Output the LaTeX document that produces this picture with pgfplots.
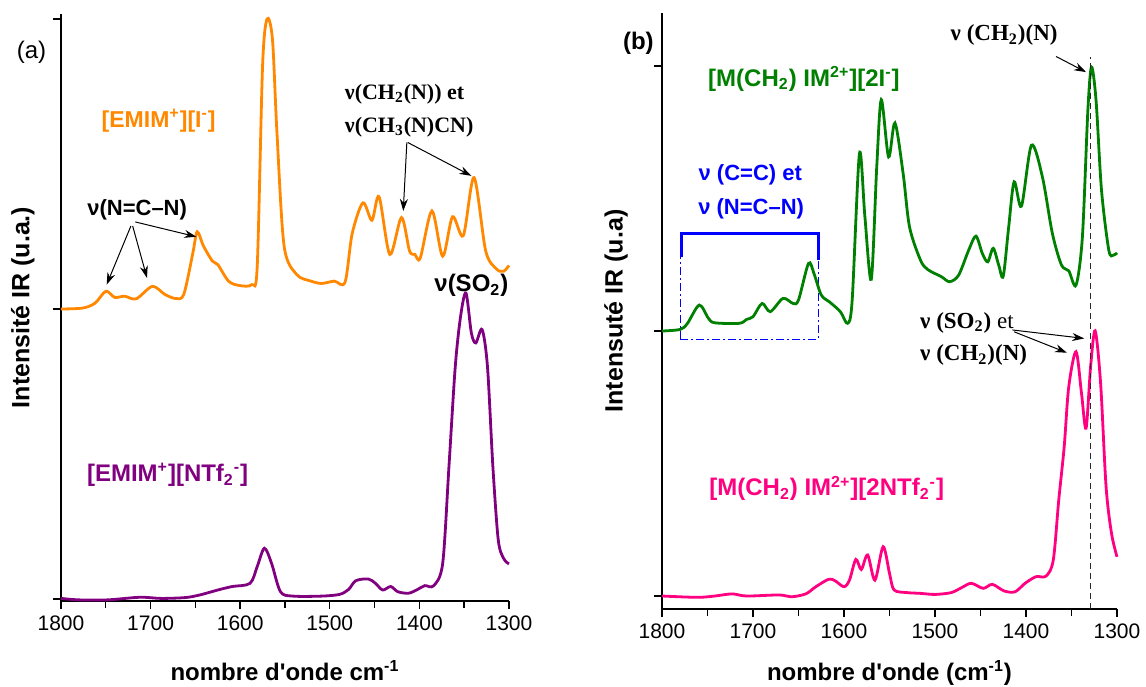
\documentclass[border=0pt]{standalone}
\usepackage{pgfplots}
\pgfplotsset{compat=1.18}
\usepackage{fontspec}
\setmainfont{Liberation Sans}
\newfontfamily\tnr{Liberation Serif}
\usetikzlibrary{arrows.meta}
\definecolor{corange}{RGB}{255,136,0}
\definecolor{cpurple}{RGB}{128,0,128}
\definecolor{cgreen}{RGB}{0,128,0}
\definecolor{cpink}{RGB}{255,0,128}
\definecolor{cblue}{RGB}{0,0,255}
\newcommand\supsub[2]{\textsubscript{#1}\textsuperscript{#2}}
\tikzset{arr/.style={-{Stealth[length=6pt,width=4pt]}, line width=0.5pt, black}}
\pgfplotsset{
  common/.style={
    scale only axis, x dir=reverse, xmin=1300, xmax=1800,
    axis x line*=bottom, axis y line*=left,
    x axis line style={-}, y axis line style={-},
    axis line style={line width=0.7pt},
    xtick={1300,1400,...,1800}, minor xtick={1350,1450,1550,1650,1750},
    ytick={0,1,2}, yticklabels={},
    tick align=outside, major tick length=4pt, minor tick length=3.5pt,
    every tick/.style={black, line width=0.7pt},
    clip=false,
    /pgf/number format/assume math mode=true,
    /pgf/number format/set thousands separator={},
    ticklabel style={font=\fontsize{10.5}{12}\selectfont},
    every axis plot/.append style={line width=1.4pt, smooth, tension=0.5},
  },
}
\begin{document}
\begin{tikzpicture}
\path[use as bounding box] (-30.5pt,-42.5pt) rectangle (542.5pt,300.5pt);
% ---------------- (a)
\begin{axis}[common, at={(0pt,0pt)}, width=224pt, height=293.5pt,
  ymin=-0.0069, ymax=2.017]
\addplot[corange] coordinates {
(1800,1.0) (1776,1.003) (1762,1.02) (1750,1.061) (1740,1.04) (1729,1.044) (1716,1.035)
(1698,1.078) (1684,1.05) (1672,1.036) (1663,1.05) (1653,1.19) (1648,1.266) (1641,1.217)
(1631,1.165) (1625,1.153) (1613,1.096) (1601,1.081) (1587,1.084) (1581,1.147) (1575,1.84)
(1570,2.0) (1564,1.93) (1559,1.61) (1551,1.217) (1537,1.119) (1521,1.096) (1509,1.088)
(1495,1.096) (1483,1.092) (1475,1.26) (1463,1.366) (1453,1.306) (1445,1.387) (1433,1.188)
(1420,1.315) (1411,1.2) (1405,1.188) (1399,1.176) (1386,1.338) (1374,1.182) (1363,1.318)
(1351,1.253) (1339,1.453) (1326,1.2) (1314,1.138) (1306,1.13) (1300,1.15)};
\addplot[cpurple] coordinates {
(1800,0.002) (1780,-0.003) (1748,-0.003) (1712,0.006) (1688,0.002) (1661,0.005) (1645,0.014)
(1625,0.031) (1609,0.043) (1589,0.054) (1581,0.112) (1573,0.175) (1565,0.123) (1555,0.025)
(1541,0.01) (1509,0.01) (1489,0.016) (1479,0.033) (1471,0.063) (1457,0.069) (1449,0.054)
(1441,0.031) (1432,0.043) (1424,0.025) (1412,0.02) (1402,0.033) (1394,0.046) (1384,0.046)
(1374,0.123) (1367,0.457) (1360,0.80) (1354,0.975) (1348,1.055) (1342,0.917) (1337,0.883)
(1330,0.929) (1324,0.80) (1318,0.457) (1312,0.204) (1306,0.14) (1300,0.121)};
\node[font=\fontsize{12}{14}\selectfont] at (axis cs:1833,1.885) {(a)};
\node[corange, font=\bfseries\fontsize{11.5}{14}\selectfont] at (axis cs:1691,1.649) {[EMIM\textsuperscript{+}][I\textsuperscript{-}]};
\node[font=\bfseries\fontsize{11}{13}\selectfont] at (axis cs:1715,1.343) {ν(N=C–N)};
\draw[arr] (axis cs:1722,1.286) -- (axis cs:1749,1.084);
\draw[arr] (axis cs:1720,1.286) -- (axis cs:1704,1.107);
\draw[arr] (axis cs:1717,1.30) -- (axis cs:1649,1.249);
\node[font=\tnr\bfseries\fontsize{11}{13}\selectfont, anchor=west] at (axis cs:1491,1.741) {ν(CH\textsubscript{2}(N)) et};
\node[font=\tnr\bfseries\fontsize{11}{13}\selectfont, anchor=west] at (axis cs:1491,1.626) {ν(CH\textsubscript{3}(N)CN)};
\draw[arr] (axis cs:1414,1.574) -- (axis cs:1418,1.338);
\draw[arr] (axis cs:1413,1.574) -- (axis cs:1342,1.459);
\node[font=\bfseries\fontsize{12}{14}\selectfont] at (axis cs:1342,1.081) {ν(SO\textsubscript{2})};
\node[cpurple, font=\bfseries\fontsize{12}{14}\selectfont] at (axis cs:1681,0.428) {[EMIM\textsuperscript{+}][NTf\supsub{2}{-}]};
\node[rotate=90, font=\bfseries\fontsize{12.5}{14}\selectfont] at (axis description cs:-0.085,0.5) {Intensité IR (u.a.)};
\node[anchor=base, font=\bfseries\fontsize{12}{14}\selectfont] at ([yshift=-39.5pt]axis description cs:0.5,0) {nombre d\textquotesingle onde cm\textsuperscript{-1}};
\end{axis}
% ---------------- (b)
\begin{axis}[common, at={(300.5pt,-4pt)}, width=227.5pt, height=298pt,
  ymin=-0.049, ymax=2.2]
\draw[cblue, line width=0.5pt, dash pattern=on 4pt off 1.5pt on 1pt off 1.5pt] (axis cs:1780,0.969) rectangle (axis cs:1628,1.368);
\draw[cblue, line width=1.5pt] (axis cs:1779,1.28) -- (axis cs:1779,1.368) -- (axis cs:1628,1.368) -- (axis cs:1628,1.268);
\addplot[cgreen] coordinates {
(1800,1.0) (1780,1.006) (1772,1.029) (1759,1.098) (1749,1.048) (1742,1.031) (1715,1.029)
(1707,1.044) (1700,1.054) (1690,1.104) (1681,1.073) (1667,1.123) (1656,1.104) (1650,1.117)
(1639,1.255) (1633,1.217) (1625,1.136) (1616,1.11) (1604,1.073) (1596,1.029) (1591,1.117)
(1583,1.67) (1577,1.43) (1570,1.195) (1564,1.62) (1559,1.873) (1551,1.657) (1544,1.785)
(1535,1.594) (1528,1.393) (1516,1.268) (1508,1.232) (1493,1.205) (1484,1.186) (1474,1.211)
(1463,1.305) (1455,1.358) (1448,1.293) (1442,1.261) (1436,1.312) (1430,1.249) (1425,1.207)
(1419,1.393) (1413,1.563) (1405,1.471) (1394,1.701) (1382,1.582) (1371,1.368) (1361,1.249)
(1353,1.227) (1345,1.173) (1338,1.356) (1332,1.833) (1328,1.996) (1323,1.87) (1317,1.531)
(1309,1.305) (1304,1.286) (1300,1.295)};
\addplot[cpink] coordinates {
(1800,0) (1761,-0.005) (1742,0) (1723,0.008) (1707,0) (1671,0.004) (1658,-0.003) (1642,0.008)
(1631,0.035) (1617,0.063) (1610,0.058) (1600,0.035) (1594,0.06) (1587,0.138) (1581,0.10)
(1574,0.155) (1566,0.06) (1557,0.186) (1550,0.086) (1545,0.023) (1531,0.013) (1516,0.01)
(1500,0.006) (1482,0.013) (1470,0.033) (1460,0.048) (1447,0.029) (1437,0.044) (1424,0.019)
(1412,0.016) (1401,0.048) (1389,0.073) (1378,0.075) (1370,0.136) (1364,0.362) (1358,0.564)
(1353,0.79) (1345,0.922) (1339,0.765) (1334,0.633) (1329,0.865) (1324,1.001) (1318,0.803)
(1312,0.413) (1306,0.236) (1300,0.148)};
\draw[dash pattern=on 3pt off 2pt, line width=0.6pt, black!85] (axis cs:1329,-0.049) -- (axis cs:1329,2.034);
\node[font=\bfseries\fontsize{12}{14}\selectfont] at (axis cs:1826,2.084) {(b)};
\node[cgreen, font=\bfseries\fontsize{12}{14}\selectfont] at (axis cs:1644,1.952) {[M(CH\textsubscript{2}) IM\textsuperscript{2+}][2I\textsuperscript{-}]};
\node[cblue, font=\bfseries\fontsize{11}{13}\selectfont] at (axis cs:1703,1.588) {ν (C=C) et};
\node[cblue, font=\bfseries\fontsize{11}{13}\selectfont] at (axis cs:1702,1.462) {ν (N=C–N)};
\node[font=\tnr\bfseries\fontsize{11.5}{13}\selectfont] at (axis cs:1424,2.116) {ν (CH\textsubscript{2})(N)};
\draw[arr] (axis cs:1367,2.036) -- (axis cs:1334,1.977);
\node[font=\tnr\fontsize{11.5}{13}\selectfont, anchor=west] at (axis cs:1524,1.031) {\textbf{ν (SO\textsubscript{2})} et};
\node[font=\tnr\bfseries\fontsize{11.5}{13}\selectfont, anchor=west] at (axis cs:1524,0.909) {ν (CH\textsubscript{2})(N)};
\draw[arr] (axis cs:1415,1.004) -- (axis cs:1336,0.972);
\draw[arr] (axis cs:1413,0.997) -- (axis cs:1355,0.918);
\node[cpink, font=\bfseries\fontsize{12}{14}\selectfont] at (axis cs:1619,0.406) {[M(CH\textsubscript{2}) IM\textsuperscript{2+}][2NTf\supsub{2}{-}]};
\node[rotate=90, font=\bfseries\fontsize{12.5}{14}\selectfont] at (axis description cs:-0.101,0.5) {Intensuté IR (u.a)};
\node[anchor=base, font=\bfseries\fontsize{12}{14}\selectfont] at ([yshift=-35.5pt]axis description cs:0.5,0) {nombre d\textquotesingle onde (cm\textsuperscript{-1})};
\end{axis}
\end{tikzpicture}
\end{document}
